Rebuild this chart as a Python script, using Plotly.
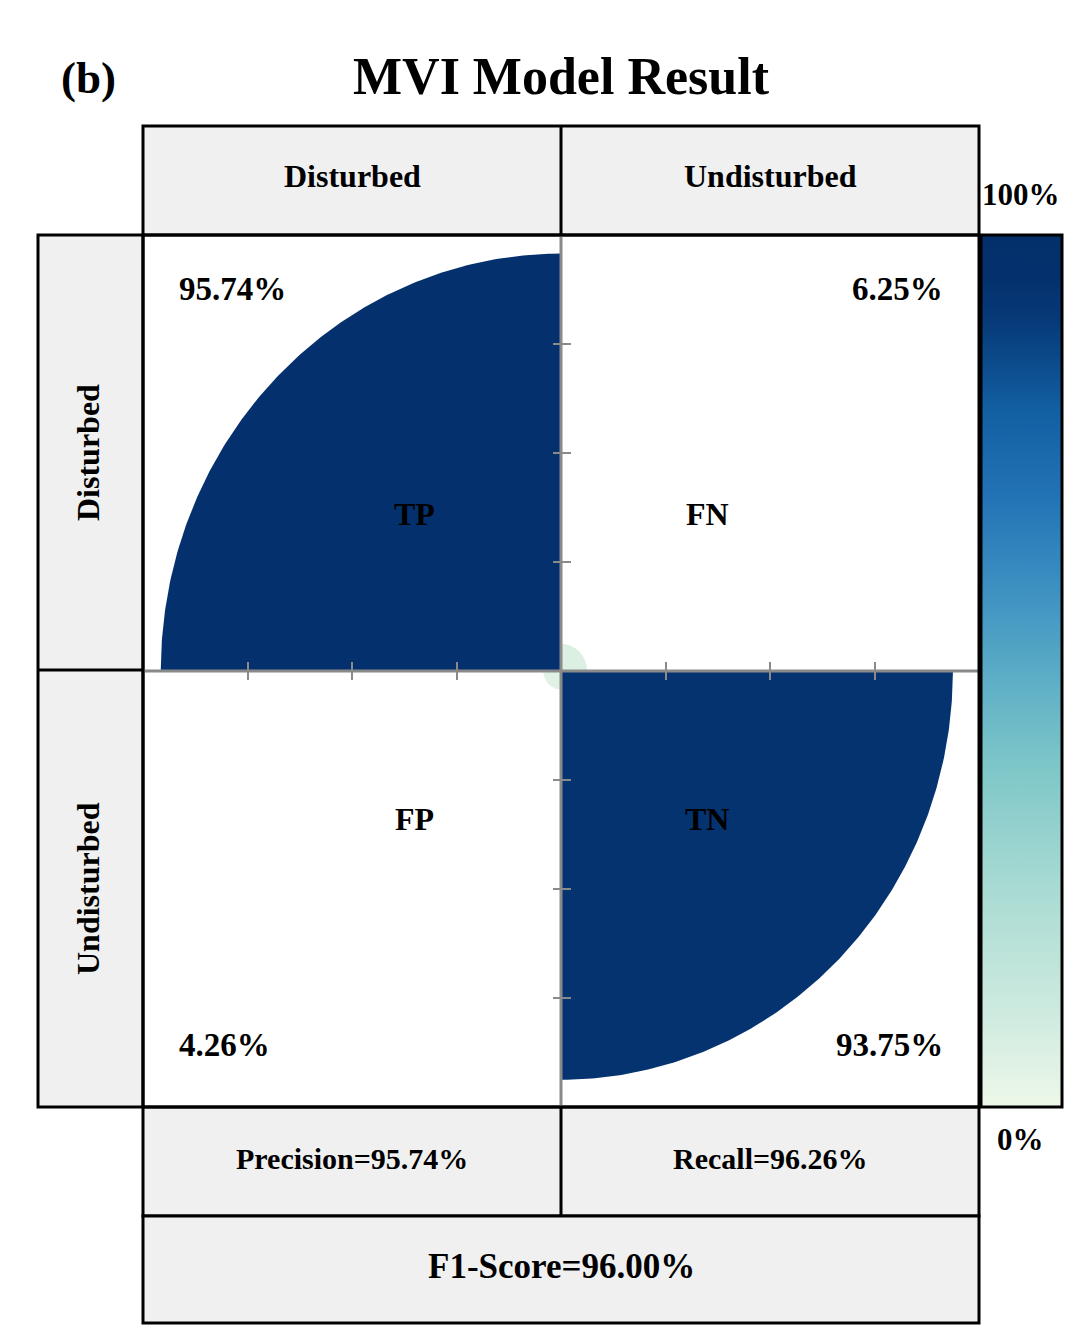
import numpy as np
import plotly.graph_objects as go
from plotly.colors import sample_colorscale

# data
classes = ["Disturbed", "Undisturbed"]
cell_names = [["TP", "FN"], ["FP", "TN"]]
cell_values = [[0.9574, 0.0625], [0.0426, 0.9375]]
cell_labels = [["95.74%", "6.25%"], ["4.26%", "93.75%"]]
metric_labels = ["Precision=95.74%", "Recall=96.26%"]
f1_label = "F1-Score=96.00%"
title = "MVI Model Result"
panel = "(b)"

# light green -> navy, like GnBu
cscale = [
    [0.0, "#eef8e9"], [0.1, "#d0ebe0"], [0.25, "#a9dbd3"], [0.4, "#7bc5c8"],
    [0.5, "#5aabc6"], [0.6, "#3b8fc1"], [0.7, "#2273b5"], [0.8, "#125fa2"],
    [0.9, "#073a78"], [0.95, "#04316e"], [1.0, "#042f6b"],
]

W, H = 1080, 1342
OFF = 8  # page body margin
FONT = "Liberation Serif"


def px(x):
    return (x - OFF) / W


def py(y):
    return 1 - (y - OFF) / H


fig = go.Figure()

t = np.linspace(0, np.pi / 2, 200)
for i in range(2):
    for j in range(2):
        v = cell_values[i][j]
        sx = -1 if j == 0 else 1
        sy = 1 if i == 0 else -1
        xs = np.concatenate([[0], sx * v * np.cos(t), [0]])
        ys = np.concatenate([[0], sy * v * np.sin(t), [0]])
        col = sample_colorscale(cscale, [v])[0]
        fig.add_trace(go.Scatter(x=xs, y=ys, mode="lines", fill="toself",
                                 fillcolor=col, line=dict(width=0, color=col),
                                 hoverinfo="skip", showlegend=False))

# colour bar
fig.add_trace(go.Scatter(
    x=[0, 0], y=[0, 0], mode="markers", hoverinfo="skip", showlegend=False,
    marker=dict(size=0.1, opacity=0, color=[0, 1], cmin=0, cmax=1,
                colorscale=cscale, showscale=True,
                colorbar=dict(x=px(981), xanchor="left", xref="paper",
                              y=py(235), yanchor="top", yref="paper",
                              len=872, lenmode="pixels",
                              thickness=81, thicknessmode="pixels",
                              outlinewidth=3, outlinecolor="black",
                              showticklabels=False, ticks="",
                              xpad=0, ypad=0)),
))

ticks = [-0.75, -0.5, -0.25, 0.25, 0.5, 0.75]

fig.update_layout(
    width=W, height=H,
    margin=dict(l=0, r=0, t=0, b=0),
    paper_bgcolor="white", plot_bgcolor="white",
    xaxis=dict(domain=[px(143), px(979)], range=[-1, 1], anchor="free",
               position=py(680), side="bottom",
               showgrid=False, zeroline=False, showline=False,
               tickvals=ticks, ticks="inside", ticklen=18, tickwidth=2,
               tickcolor="#8a8a8a", showticklabels=False, fixedrange=True),
    yaxis=dict(domain=[py(1107), py(235)], range=[-1, 1], anchor="free",
               position=px(552), side="left",
               showgrid=False, zeroline=False, showline=False,
               tickvals=ticks, ticks="inside", ticklen=18, tickwidth=2,
               tickcolor="#8a8a8a", showticklabels=False, fixedrange=True),
    font=dict(family=FONT, color="black"),
)

shapes = []
grey = "#f0f0f0"


def box(x0, x1, y0, y1, fill=grey, layer="below"):
    shapes.append(dict(type="rect", xref="paper", yref="paper",
                       x0=px(x0), x1=px(x1), y0=py(y1), y1=py(y0),
                       fillcolor=fill, line=dict(color="black", width=3),
                       layer=layer))


def line(x0, y0, x1, y1, color="black", width=3):
    shapes.append(dict(type="line", xref="paper", yref="paper",
                       x0=px(x0), x1=px(x1), y0=py(y0), y1=py(y1),
                       line=dict(color=color, width=width), layer="above"))


box(143, 979, 126, 235)
line(561, 126, 561, 235)
box(38, 143, 235, 1107)
line(38, 670, 143, 670)
box(143, 979, 1107, 1216)
line(561, 1107, 561, 1216)
box(143, 979, 1216, 1323)

# grey cross through the centre of the matrix
shapes.append(dict(type="line", xref="x", yref="y", x0=-1, x1=1, y0=0, y1=0,
                   line=dict(color="#8a8a8a", width=3), layer="above"))
shapes.append(dict(type="line", xref="x", yref="y", x0=0, x1=0, y0=-1, y1=1,
                   line=dict(color="#8a8a8a", width=3), layer="above"))
box(143, 979, 235, 1107, fill="rgba(0,0,0,0)", layer="above")

fig.update_layout(shapes=shapes)

ann = []


def ptext(x, y, s, size, angle=0):
    ann.append(dict(xref="paper", yref="paper", x=px(x), y=py(y), text="<b>%s</b>" % s,
                    showarrow=False, xanchor="center", yanchor="middle",
                    textangle=angle, font=dict(size=size, family=FONT, color="black")))


ptext(88, 78, panel, 45)
ptext(561, 76, title, 52)
ptext(352, 176, classes[0], 32)
ptext(770, 176, classes[1], 32)
ptext(88, 453, classes[0], 32, -90)
ptext(88, 889, classes[1], 32, -90)
ptext(352, 1158, metric_labels[0], 30)
ptext(770, 1158, metric_labels[1], 30)
ptext(561, 1266, f1_label, 35)
ptext(1021, 194, "100%", 31)
ptext(1020, 1139, "0%", 31)

for i in range(2):
    for j in range(2):
        sx = -1 if j == 0 else 1
        sy = 1 if i == 0 else -1
        ann.append(dict(xref="x", yref="y", x=0.35 * sx, y=0.36 * sy if i == 0 else -0.34,
                        text="<b>%s</b>" % cell_names[i][j], showarrow=False,
                        font=dict(size=32, family=FONT, color="black")))
        ann.append(dict(xref="x", yref="y", x=0.918 * sx,
                        y=0.877 if i == 0 else -0.858,
                        text="<b>%s</b>" % cell_labels[i][j], showarrow=False,
                        xanchor="left" if j == 0 else "right", yanchor="middle",
                        font=dict(size=33, family=FONT, color="black")))

fig.update_layout(annotations=ann)

fig.write_html("out.html")
